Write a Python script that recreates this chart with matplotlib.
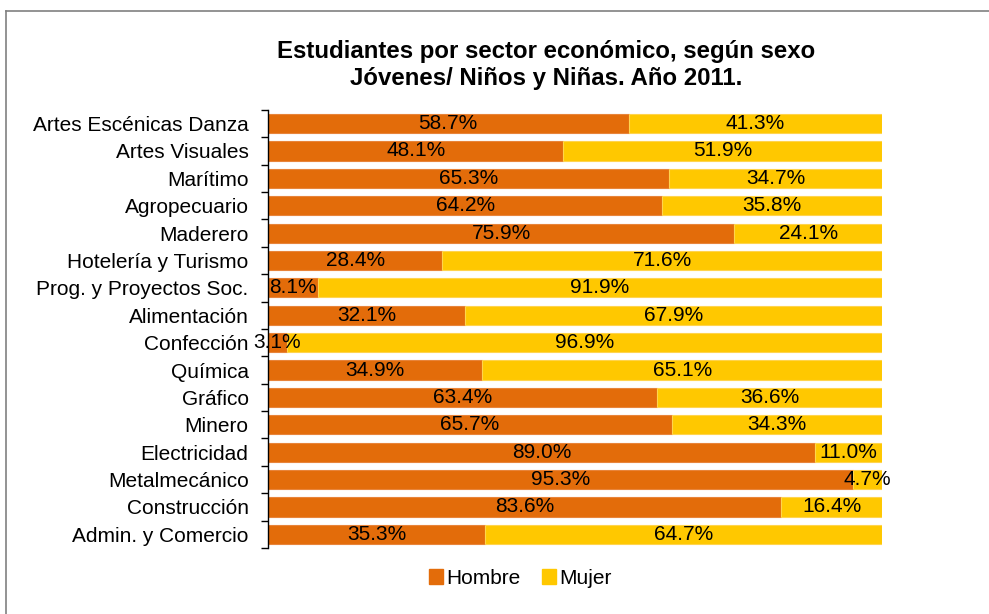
import numpy as np
import matplotlib.pyplot as plt
from matplotlib.patches import Patch

plt.rcParams['font.family'] = ['Liberation Sans', 'DejaVu Sans']

sectores = ["Artes Escénicas Danza", "Artes Visuales", "Marítimo", "Agropecuario",
            "Maderero", "Hotelería y Turismo", "Prog. y Proyectos Soc.", "Alimentación",
            "Confección", "Química", "Gráfico", "Minero", "Electricidad",
            "Metalmecánico", "Construcción", "Admin. y Comercio"]
hombre = [58.7, 48.1, 65.3, 64.2, 75.9, 28.4, 8.1, 32.1, 3.1, 34.9, 63.4, 65.7,
          89.0, 95.3, 83.6, 35.3]
mujer = [41.3, 51.9, 34.7, 35.8, 24.1, 71.6, 91.9, 67.9, 96.9, 65.1, 36.6, 34.3,
         11.0, 4.7, 16.4, 64.7]

c_h = "#E36C0A"
c_m = "#FFC800"
fs = 15

fig = plt.figure(figsize=(9.89, 6.14), dpi=100)
ax = fig.add_axes([0.271, 0.1075, 0.621, 0.7135])

y = np.arange(len(sectores))
h = np.array(hombre)
m = np.array(mujer)
ax.barh(y, h, height=0.7, color=c_h, edgecolor="#E8843A", linewidth=0.8)
ax.barh(y, m, left=h, height=0.7, color=c_m, edgecolor="#FFD44D", linewidth=0.8)

for yi, hv, mv in zip(y, h, m):
    ax.text(hv / 2, yi, f"{hv:.1f}%", ha="center", va="center", fontsize=fs)
    ax.text(hv + mv / 2, yi, f"{mv:.1f}%", ha="center", va="center", fontsize=fs)

ax.set_xlim(0, 100)
ax.set_ylim(len(sectores) - 0.5, -0.5)
ax.set_yticks(y)
ax.set_yticklabels(sectores, fontsize=fs)
ax.set_yticks(np.arange(-0.5, len(sectores)), minor=True)
ax.tick_params(axis="y", which="major", length=0, pad=14)
ax.tick_params(axis="y", which="minor", length=5, width=1, color="black")
ax.set_xticks([])
for s in ["top", "right", "bottom"]:
    ax.spines[s].set_visible(False)
ax.spines["left"].set_linewidth(1)

fig.text(0.552, 0.894, "Estudiantes por sector económico, según sexo\nJóvenes/ Niños y Niñas. Año 2011.",
         ha="center", va="center", fontsize=17.3, fontweight="bold", linespacing=1.2)

handles = [Patch(color=c_h, label="Hombre"), Patch(color=c_m, label="Mujer")]
fig.legend(handles=handles, loc="center", bbox_to_anchor=(0.526, 0.058), ncol=2,
           frameon=False, fontsize=fs, handlelength=0.7, handleheight=0.7,
           handletextpad=0.15, columnspacing=1.0)

# chart frame (partially visible)
fig.add_artist(plt.Line2D([6 / 989, 1], [1 - 11 / 614, 1 - 11 / 614], color="#808080", lw=1.2))
fig.add_artist(plt.Line2D([6 / 989, 6 / 989], [0, 1 - 11 / 614], color="#808080", lw=1.2))

fig.savefig("out.png", dpi=100)
